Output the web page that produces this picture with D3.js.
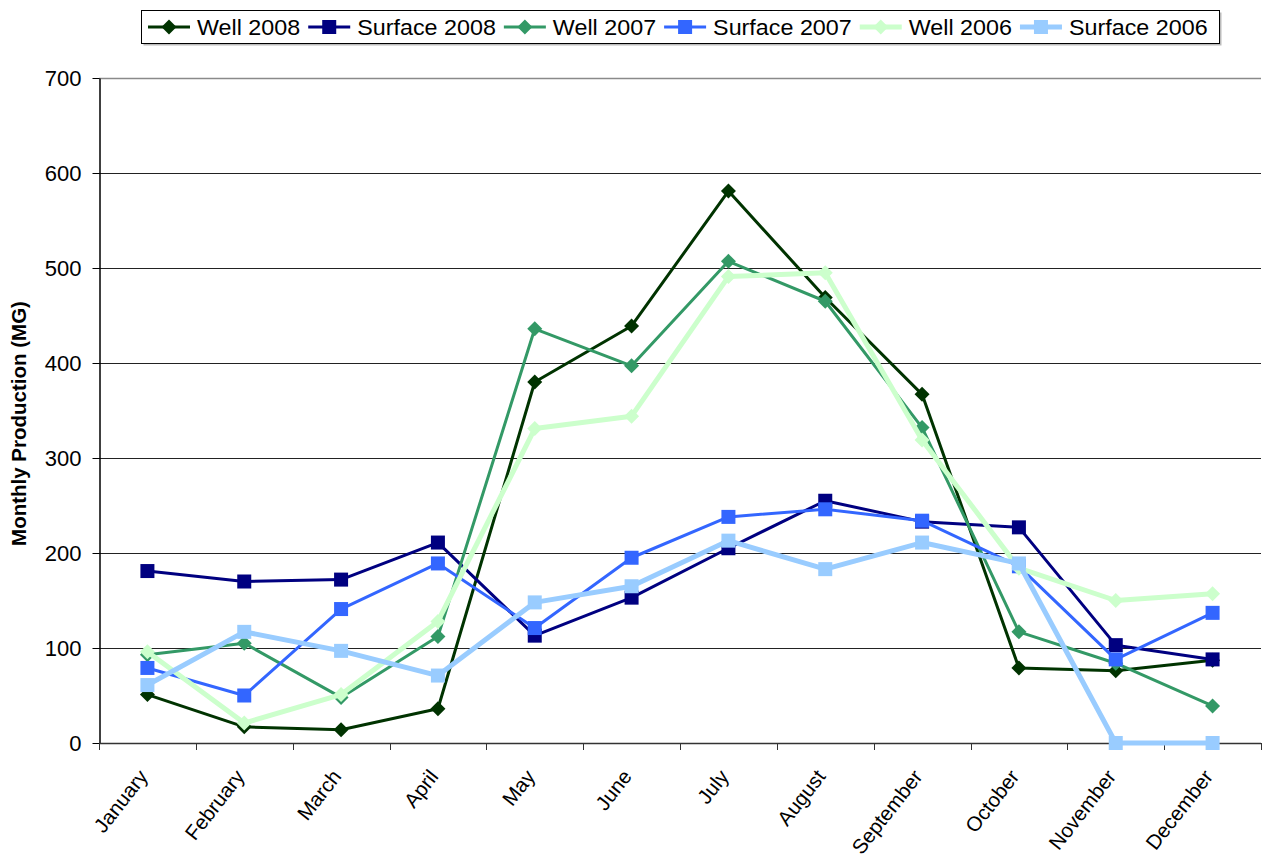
<!DOCTYPE html>
<html>
<head>
<meta charset="utf-8">
<script src="https://cdn.jsdelivr.net/npm/d3@7"></script>
<style>
  html, body { margin: 0; padding: 0; background: #fff; }
  svg { display: block; font-family: "Liberation Sans", Arial, sans-serif; }
</style>
</head>
<body>
<svg id="chart" width="1263" height="858"></svg>
<script>
// Monthly production, million gallons
const months = ["January", "February", "March", "April", "May", "June",
                "July", "August", "September", "October", "November", "December"];
const yTicks = [0, 100, 200, 300, 400, 500, 600, 700];

const seriesNames = ["Well 2008", "Surface 2008", "Well 2007", "Surface 2007", "Well 2006", "Surface 2006"];
const well2008    = [51, 17, 14, 36, 380, 439, 581, 469, 367, 79, 76, 87];
const surface2008 = [181, 170, 172, 211, 113, 153, 205, 255, 233, 227, 103, 88];
const well2007    = [93, 105, 48, 112, 436, 397, 507, 465, 332, 117, 84, 39];
const surface2007 = [79, 50, 141, 189, 121, 195, 238, 246, 234, 186, 88, 137];
const well2006    = [96, 21, 51, 128, 331, 344, 491, 495, 319, 184, 150, 157];
const surface2006 = [61, 117, 97, 71, 148, 165, 213, 183, 211, 189, 0, 0];

const seriesValues = [well2008, surface2008, well2007, surface2007, well2006, surface2006];

// Look of each series: colour, line width, marker shape
const styles = [
  { color: "#003300", width: 3, marker: "diamond" },
  { color: "#000080", width: 3, marker: "square" },
  { color: "#339966", width: 3, marker: "diamond" },
  { color: "#3366FF", width: 3, marker: "square" },
  { color: "#CCFFCC", width: 5, marker: "diamond" },
  { color: "#99CCFF", width: 5, marker: "square" }
];

const plot = { left: 99, right: 1261, top: 78, bottom: 743 };
const svg = d3.select("#chart");

const x = d3.scaleBand().domain(months).range([plot.left, plot.right]).paddingInner(0).paddingOuter(0);
const cx = m => x(m) + x.bandwidth() / 2;
const y = d3.scaleLinear().domain([0, 700]).range([plot.bottom, plot.top]);

// Horizontal gridlines
svg.append("g")
  .selectAll("line")
  .data(yTicks.filter(v => v > 0))
  .join("line")
  .attr("x1", plot.left).attr("x2", plot.right)
  .attr("y1", d => Math.round(y(d)) + 0.5).attr("y2", d => Math.round(y(d)) + 0.5)
  .attr("stroke", d => d === 700 ? "#8a8a8a" : "#222")
  .attr("stroke-width", d => d === 700 ? 1.5 : 1);

// Y axis
const yAxis = svg.append("g")
  .attr("transform", `translate(${plot.left + 0.5},0)`)
  .call(d3.axisLeft(y).tickValues(yTicks).tickSize(7).tickPadding(11).tickSizeOuter(0));
yAxis.select(".domain").attr("stroke", "#000").attr("stroke-width", 1.5);
yAxis.selectAll(".tick line").attr("stroke", "#000");
yAxis.selectAll(".tick text")
  .attr("font-size", 22)
  .attr("font-family", "Liberation Sans, Arial, sans-serif")
  .attr("fill", "#000");

// X axis: baseline, ticks on category boundaries, rotated month labels
const xg = svg.append("g");
xg.append("line")
  .attr("x1", plot.left).attr("x2", plot.right)
  .attr("y1", plot.bottom + 0.5).attr("y2", plot.bottom + 0.5)
  .attr("stroke", "#333").attr("stroke-width", 1.5);
const boundaries = months.map(m => x(m)).concat([x(months[months.length - 1]) + x.bandwidth()]);
xg.selectAll("line.tick")
  .data(boundaries)
  .join("line")
  .attr("class", "tick")
  .attr("x1", d => Math.round(d) + 0.5).attr("x2", d => Math.round(d) + 0.5)
  .attr("y1", plot.bottom).attr("y2", plot.bottom + 7)
  .attr("stroke", "#333");
xg.selectAll("text")
  .data(months)
  .join("text")
  .attr("transform", m => `translate(${cx(m) - 10},${plot.bottom + 25}) rotate(-52)`)
  .attr("text-anchor", "end")
  .attr("dy", "0.7em")
  .attr("font-size", 20.5)
  .attr("fill", "#000")
  .text(m => m);

// Y axis title
svg.append("text")
  .attr("transform", `translate(26,${(plot.top + plot.bottom) / 2 + 13}) rotate(-90)`)
  .attr("text-anchor", "middle")
  .attr("font-size", 20.5)
  .attr("font-weight", "bold")
  .attr("fill", "#000")
  .text("Monthly Production (MG)");

// Marker drawing
function drawMarker(sel, shape, color) {
  if (shape === "square") {
    sel.append("rect")
      .attr("x", -7).attr("y", -7).attr("width", 14).attr("height", 14)
      .attr("fill", color);
  } else {
    sel.append("path")
      .attr("d", "M0,-7.5L7.5,0L0,7.5L-7.5,0Z")
      .attr("fill", color);
  }
}

// Series lines and markers, drawn in legend order
const line = d3.line().x((d, i) => cx(months[i])).y(d => y(d));
seriesValues.forEach((vals, s) => {
  const st = styles[s];
  const g = svg.append("g").attr("class", "series");
  g.append("path")
    .datum(vals)
    .attr("d", line)
    .attr("fill", "none")
    .attr("stroke", st.color)
    .attr("stroke-width", st.width)
    .attr("stroke-linejoin", "round");
  g.selectAll("g.pt")
    .data(vals)
    .join("g")
    .attr("class", "pt")
    .attr("transform", (d, i) => `translate(${cx(months[i])},${y(d)})`)
    .each(function () { drawMarker(d3.select(this), st.marker, st.color); });
});

// Legend
const legend = svg.append("g");
legend.append("rect")
  .attr("x", 143.5).attr("y", 12.5).attr("width", 1078).attr("height", 33)
  .attr("fill", "#bbb");
legend.append("rect")
  .attr("x", 141.5).attr("y", 10.5).attr("width", 1078).attr("height", 33)
  .attr("fill", "#fff").attr("stroke", "#000").attr("stroke-width", 1);
const textStretch = 1.06;
let lx = 148;
const ly = 27;
seriesNames.forEach((name, s) => {
  const st = styles[s];
  const item = legend.append("g");
  item.append("line")
    .attr("x1", lx).attr("x2", lx + 42)
    .attr("y1", ly).attr("y2", ly)
    .attr("stroke", st.color).attr("stroke-width", st.width);
  drawMarker(item.append("g").attr("transform", `translate(${lx + 21},${ly})`), st.marker, st.color);
  const t = item.append("text")
    .attr("transform", `translate(${lx + 49},${ly + 8}) scale(${textStretch},1)`)
    .attr("font-size", 22)
    .attr("fill", "#000")
    .text(name);
  lx = lx + 49 + t.node().getComputedTextLength() * textStretch + 8;
});
</script>
</body>
</html>
